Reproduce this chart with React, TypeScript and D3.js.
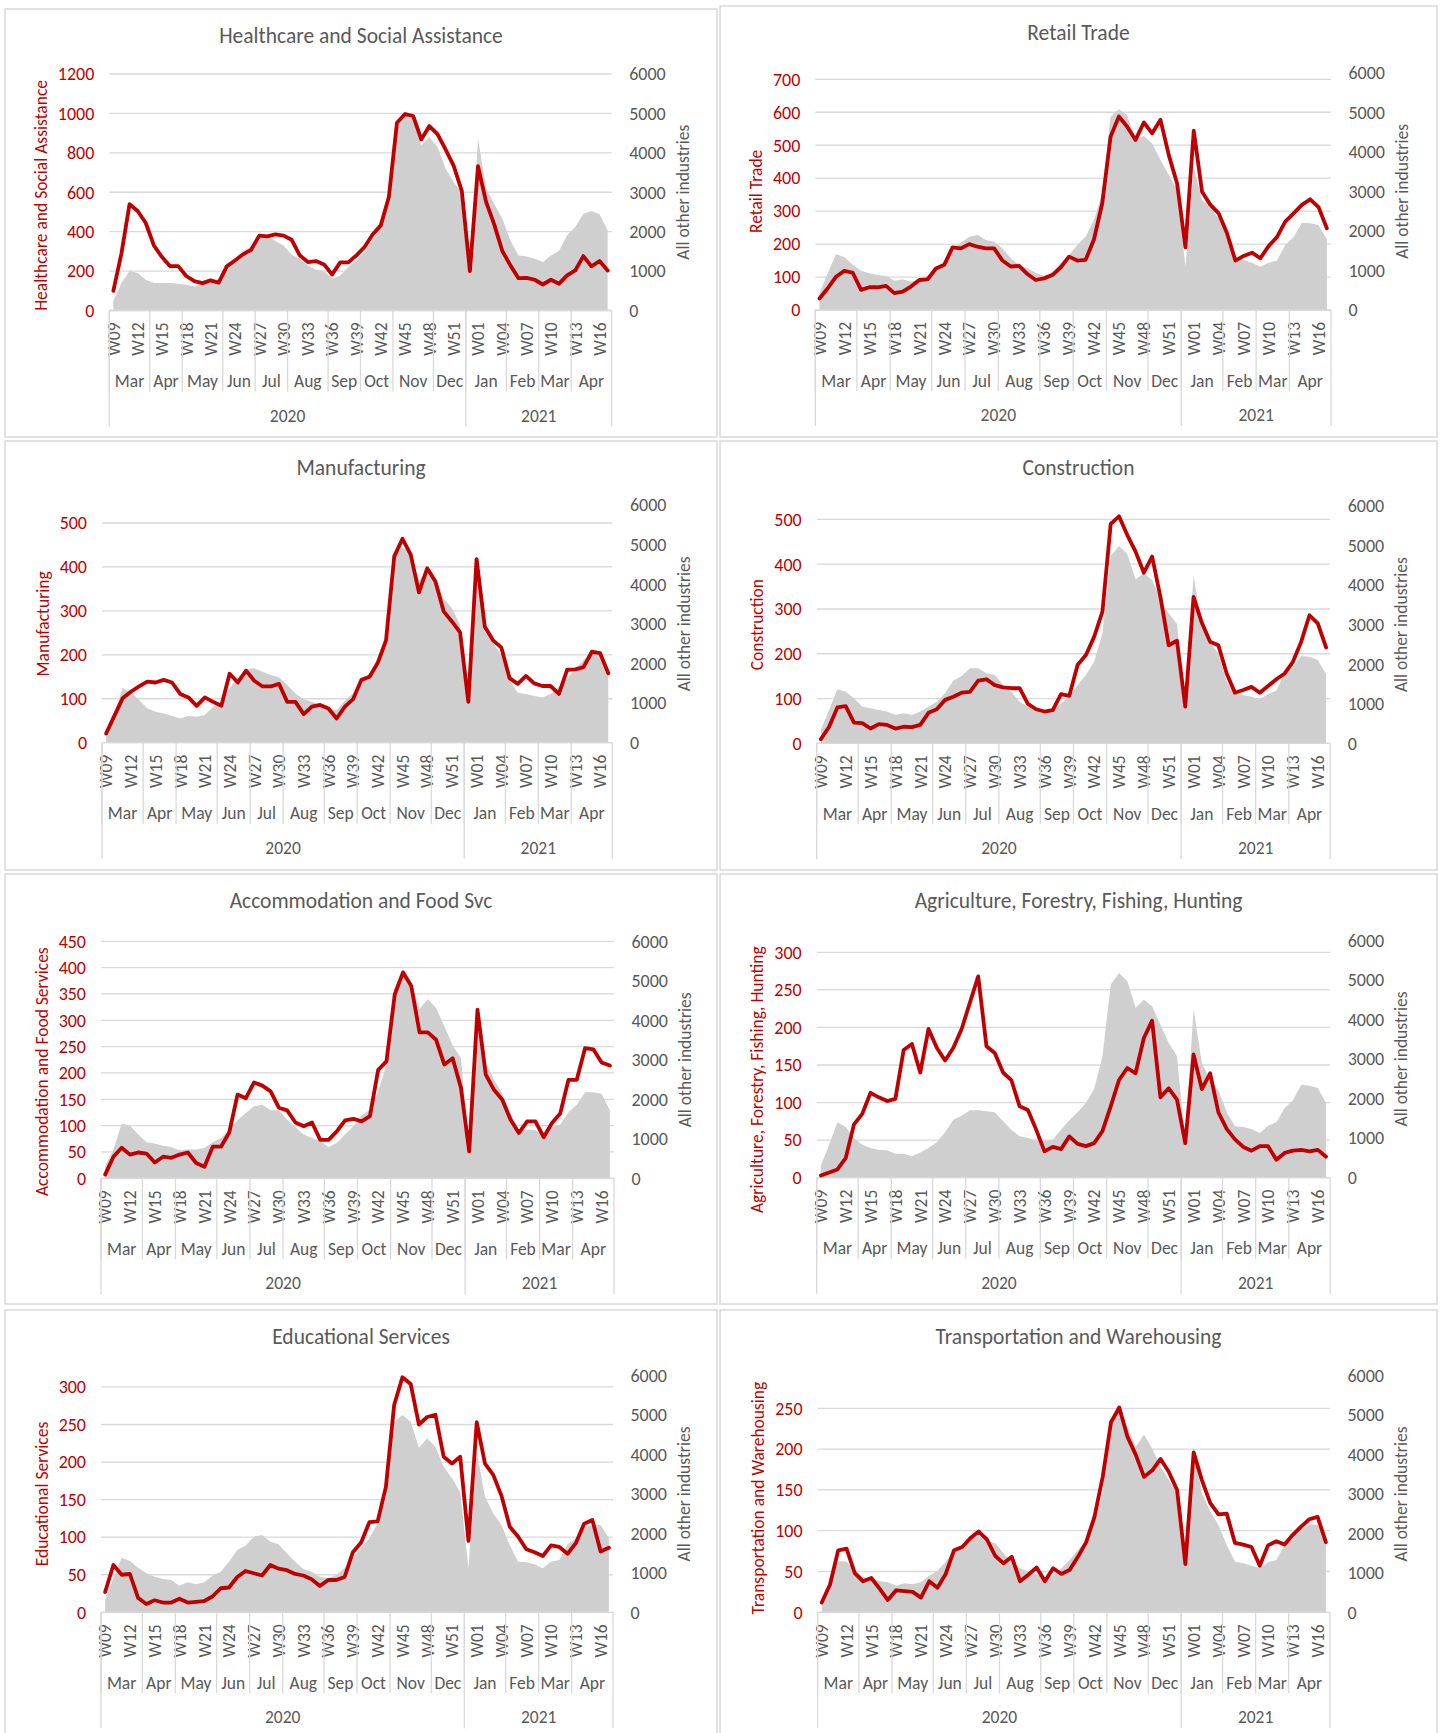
import { useEffect, useRef } from 'react';
import * as d3 from 'd3';

const W = 1442, H = 1733;
const RED = '#C00000';
const AREA = '#D0CFCF';
const GRID = '#D9D9D9';
const TEXT = '#595959';
const FONT = "Carlito, Calibri, Lato, sans-serif";

// 2020 W09 .. W53, then 2021 W01 .. W17
const WEEKS = [
  'W09', 'W10', 'W11', 'W12', 'W13', 'W14', 'W15', 'W16', 'W17', 'W18', 'W19', 'W20', 'W21', 'W22', 'W23',
  'W24', 'W25', 'W26', 'W27', 'W28', 'W29', 'W30', 'W31', 'W32', 'W33', 'W34', 'W35', 'W36', 'W37', 'W38',
  'W39', 'W40', 'W41', 'W42', 'W43', 'W44', 'W45', 'W46', 'W47', 'W48', 'W49', 'W50', 'W51', 'W52', 'W53',
  'W01', 'W02', 'W03', 'W04', 'W05', 'W06', 'W07', 'W08', 'W09', 'W10', 'W11', 'W12', 'W13', 'W14', 'W15',
  'W16', 'W17',
];
const MONTHS = ['Mar', 'Apr', 'May', 'Jun', 'Jul', 'Aug', 'Sep', 'Oct', 'Nov', 'Dec', 'Jan', 'Feb', 'Mar', 'Apr'];
const MONTH_WEEKS = [5, 4, 5, 4, 4, 5, 4, 4, 5, 4, 5, 4, 4, 5];
const YEARS = ['2020', '2021'];
const YEAR_WEEKS = [44, 18];
const RIGHT_TICKS = [0, 1000, 2000, 3000, 4000, 5000, 6000];

const HSA_RED = [100, 290, 540, 505, 444, 330, 271, 225, 225, 175, 149, 139, 153, 141, 224, 254, 285, 308, 380, 376, 386, 380, 359, 280, 246, 251, 234, 183, 244, 244, 280, 322, 386, 432, 576, 953, 997, 987, 868, 936, 895, 817, 734, 607, 200, 732, 551, 437, 302, 229, 164, 166, 156, 132, 156, 136, 178, 203, 276, 224, 251, 203];
const HSA_GRAY = [250, 695, 1000, 949, 780, 695, 695, 695, 678, 652, 610, 695, 745, 720, 1016, 1254, 1508, 1626, 1906, 1906, 1762, 1652, 1423, 1313, 1143, 1033, 1000, 805, 890, 1101, 1287, 1508, 1796, 2118, 2710, 4659, 4997, 4955, 4193, 4404, 4150, 3600, 3261, 2981, 1000, 4362, 3092, 2710, 2329, 1779, 1398, 1372, 1313, 1228, 1398, 1508, 1906, 2118, 2456, 2524, 2439, 2033];

const RET_RED = [35, 66, 101, 119, 113, 61, 69, 69, 73, 51, 56, 71, 91, 93, 126, 137, 190, 187, 200, 192, 187, 187, 150, 132, 134, 109, 91, 96, 106, 129, 162, 150, 152, 214, 324, 526, 587, 556, 516, 569, 536, 577, 470, 384, 190, 544, 359, 319, 293, 233, 150, 164, 174, 157, 194, 221, 268, 293, 319, 336, 312, 248];
const RET_GRAY = [420, 927, 1416, 1331, 1138, 994, 927, 885, 860, 742, 775, 716, 758, 860, 1028, 1163, 1534, 1702, 1854, 1896, 1770, 1728, 1559, 1306, 1138, 1053, 944, 860, 969, 1180, 1390, 1643, 1854, 2275, 2949, 4888, 5073, 4930, 4298, 4399, 4213, 3792, 3413, 3051, 1096, 3600, 2781, 2570, 2317, 1837, 1348, 1264, 1197, 1096, 1197, 1247, 1643, 1837, 2208, 2191, 2149, 1787];

const MFG_RED = [21, 61, 101, 116, 128, 139, 137, 143, 137, 111, 103, 84, 103, 93, 84, 157, 137, 164, 141, 128, 128, 134, 93, 93, 65, 82, 86, 78, 55, 82, 99, 143, 150, 182, 233, 424, 464, 428, 342, 397, 367, 299, 276, 251, 93, 418, 264, 233, 217, 147, 134, 152, 135, 129, 129, 111, 166, 167, 172, 207, 204, 158];
const MFG_GRAY = [300, 740, 1372, 1287, 1077, 867, 783, 740, 673, 614, 673, 656, 698, 909, 1035, 1372, 1649, 1851, 1877, 1792, 1708, 1649, 1456, 1245, 1094, 1035, 951, 842, 825, 1060, 1245, 1540, 1750, 2045, 2508, 4696, 4931, 4780, 4107, 4317, 4149, 3644, 3391, 2970, 993, 4200, 2802, 2525, 2213, 1582, 1262, 1229, 1178, 1144, 1229, 1414, 1624, 1851, 2087, 2255, 2213, 1750];

const CON_RED = [9, 37, 80, 83, 46, 45, 33, 43, 41, 33, 37, 36, 41, 68, 76, 97, 104, 113, 115, 140, 143, 130, 125, 123, 123, 88, 76, 71, 74, 110, 106, 175, 197, 238, 294, 490, 507, 465, 428, 381, 417, 327, 219, 229, 82, 327, 269, 227, 219, 156, 113, 119, 126, 113, 128, 143, 156, 182, 227, 286, 268, 214];
const CON_GRAY = [337, 843, 1365, 1306, 1138, 927, 885, 843, 801, 716, 758, 716, 801, 927, 1053, 1264, 1584, 1702, 1896, 1896, 1770, 1728, 1475, 1306, 1053, 927, 885, 758, 843, 1011, 1180, 1475, 1728, 2065, 2781, 4736, 4989, 4786, 4146, 4298, 4129, 3624, 3287, 3017, 927, 4256, 2950, 2528, 2275, 1559, 1264, 1222, 1180, 1112, 1247, 1331, 1787, 1938, 2208, 2191, 2107, 1753];

const ACC_RED = [7, 41, 58, 45, 49, 47, 30, 41, 39, 45, 49, 29, 22, 60, 60, 87, 159, 152, 182, 176, 165, 134, 129, 106, 99, 106, 73, 73, 89, 110, 113, 108, 118, 206, 222, 349, 391, 365, 277, 277, 263, 216, 228, 172, 51, 320, 197, 168, 149, 111, 86, 108, 108, 78, 105, 123, 187, 187, 247, 245, 220, 214];
const ACC_GRAY = [300, 726, 1384, 1333, 1106, 911, 878, 827, 793, 709, 726, 726, 768, 911, 1021, 1232, 1468, 1654, 1823, 1865, 1722, 1722, 1485, 1300, 1106, 1021, 937, 793, 894, 1106, 1316, 1587, 1739, 2203, 2878, 4819, 5283, 4945, 4287, 4540, 4312, 3848, 3359, 3046, 726, 4312, 2920, 2498, 2143, 1654, 1249, 1232, 1215, 1080, 1300, 1359, 1671, 1865, 2177, 2177, 2143, 1722];

const AGR_RED = [3, 7, 11, 26, 71, 85, 113, 107, 102, 105, 170, 178, 140, 198, 173, 156, 173, 198, 233, 268, 175, 166, 140, 130, 95, 90, 64, 35, 41, 38, 55, 45, 42, 46, 62, 95, 130, 146, 139, 186, 209, 107, 119, 104, 46, 164, 118, 139, 87, 65, 51, 41, 36, 42, 42, 24, 33, 36, 37, 35, 37, 28];
const AGR_GRAY = [303, 834, 1399, 1281, 1003, 834, 750, 708, 691, 607, 607, 539, 640, 750, 893, 1146, 1466, 1567, 1702, 1702, 1677, 1652, 1424, 1213, 1045, 1003, 944, 919, 961, 1213, 1449, 1652, 1888, 2242, 3067, 4879, 5174, 4964, 4289, 4500, 4331, 3868, 3405, 3067, 876, 4264, 2899, 2478, 2208, 1652, 1298, 1281, 1230, 1129, 1315, 1399, 1761, 1955, 2351, 2326, 2267, 1888];

const EDU_RED = [27, 63, 50, 51, 19, 11, 16, 13, 13, 18, 13, 14, 15, 21, 32, 33, 47, 55, 52, 49, 63, 58, 56, 51, 49, 44, 35, 43, 43, 47, 80, 93, 120, 121, 167, 276, 313, 304, 250, 260, 263, 207, 198, 207, 95, 253, 198, 183, 155, 114, 101, 84, 80, 75, 89, 87, 78, 92, 118, 123, 81, 86];
const EDU_GRAY = [313, 879, 1386, 1301, 1132, 989, 904, 845, 820, 676, 761, 710, 761, 930, 1031, 1285, 1580, 1690, 1918, 1961, 1792, 1724, 1496, 1285, 1099, 1031, 904, 862, 947, 1116, 1369, 1640, 1876, 2256, 2932, 4834, 5003, 4834, 4175, 4411, 4200, 3693, 3397, 3042, 1116, 4073, 2932, 2510, 2214, 1707, 1285, 1268, 1217, 1116, 1285, 1327, 1724, 1876, 2172, 2214, 2214, 1876];

const TRN_RED = [12, 34, 76, 78, 48, 38, 42, 29, 15, 27, 26, 25, 18, 38, 30, 47, 76, 80, 91, 99, 89, 69, 60, 68, 38, 46, 55, 38, 54, 47, 52, 68, 86, 117, 166, 233, 251, 215, 193, 166, 174, 188, 172, 150, 59, 196, 162, 134, 120, 121, 85, 83, 80, 57, 82, 87, 83, 95, 105, 114, 117, 86];
const TRN_GRAY = [186, 820, 1301, 1285, 1073, 904, 845, 794, 761, 676, 735, 710, 761, 930, 1048, 1285, 1555, 1690, 1876, 1944, 1809, 1749, 1496, 1285, 1116, 1031, 963, 862, 947, 1116, 1327, 1580, 1834, 2299, 3059, 4876, 5087, 4700, 4200, 4500, 4150, 3693, 3355, 3042, 1158, 4200, 3017, 2569, 2214, 1707, 1285, 1242, 1183, 1116, 1268, 1327, 1707, 1876, 2130, 2231, 2214, 1876];

interface Panel {
  title: string;
  axisTitle: string;
  red: number[];
  gray: number[];
  leftMax: number;
  step: number;
}

const PANELS: Panel[] = [
  { title: 'Healthcare and Social Assistance', axisTitle: 'Healthcare and Social Assistance', red: HSA_RED, gray: HSA_GRAY, leftMax: 1200, step: 200 },
  { title: 'Retail Trade', axisTitle: 'Retail Trade', red: RET_RED, gray: RET_GRAY, leftMax: 720, step: 100 },
  { title: 'Manufacturing', axisTitle: 'Manufacturing', red: MFG_RED, gray: MFG_GRAY, leftMax: 541, step: 100 },
  { title: 'Construction', axisTitle: 'Construction', red: CON_RED, gray: CON_GRAY, leftMax: 530, step: 100 },
  { title: 'Accommodation and Food Svc', axisTitle: 'Accommodation and Food Services', red: ACC_RED, gray: ACC_GRAY, leftMax: 450, step: 50 },
  { title: 'Agriculture, Forestry, Fishing, Hunting', axisTitle: 'Agriculture, Forestry, Fishing, Hunting', red: AGR_RED, gray: AGR_GRAY, leftMax: 316, step: 50 },
  { title: 'Educational Services', axisTitle: 'Educational Services', red: EDU_RED, gray: EDU_GRAY, leftMax: 315, step: 50 },
  { title: 'Transportation and Warehousing', axisTitle: 'Transportation and Warehousing', red: TRN_RED, gray: TRN_GRAY, leftMax: 290, step: 50 },
];

// frame box [x, y, w, h] and plot area edges of each panel
const LAYOUT = [
  { box: [5, 9, 712, 428], l: 109.3, r: 611.7, t: 74, b: 310.5 },
  { box: [720, 6, 717, 431], l: 815.3, r: 1331, t: 72.7, b: 310 },
  { box: [5, 441, 712, 429], l: 102, r: 612.4, t: 505, b: 742.7 },
  { box: [720, 441, 717, 429], l: 816.7, r: 1330.2, t: 506, b: 743.3 },
  { box: [5, 874, 712, 430], l: 101, r: 614, t: 941.3, b: 1178.3 },
  { box: [720, 874, 717, 430], l: 816.7, r: 1330.2, t: 940.3, b: 1177.7 },
  { box: [5, 1310, 712, 440], l: 101, r: 613, t: 1375.7, b: 1612.3 },
  { box: [720, 1310, 717, 440], l: 817.6, r: 1330, t: 1375.7, b: 1612.3 },
];

type Sel = d3.Selection<SVGGElement, unknown, null, undefined>;

function drawPanel(g: Sel, p: Panel, lay: typeof LAYOUT[number]) {
  const [bx, by, bw, bh] = lay.box;
  const { l, r, t, b } = lay;
  g.append('rect').attr('x', bx).attr('y', by).attr('width', bw).attr('height', bh)
    .attr('fill', '#fff').attr('stroke', GRID).attr('stroke-width', 1.5);

  const n = WEEKS.length;
  const x = d3.scaleBand<number>().domain(d3.range(n)).range([l, r]);
  const bwid = x.bandwidth();
  const cx = (i: number) => (x(i) ?? 0) + bwid / 2;
  const yL = d3.scaleLinear().domain([0, p.leftMax]).range([b, t]);
  const yR = d3.scaleLinear().domain([0, 6000]).range([b, t]);
  const ticks = d3.range(0, p.leftMax + 1e-6, p.step);

  // gridlines (left axis)
  g.append('g').selectAll('line').data(ticks).join('line')
    .attr('x1', l).attr('x2', r).attr('y1', d => yL(d)).attr('y2', d => yL(d))
    .attr('stroke', GRID).attr('stroke-width', 1.3);

  // All other industries: grey area on the secondary axis
  const area = d3.area<number>().x((_, i) => cx(i)).y0(b).y1(v => yR(v));
  g.append('path').attr('d', area(p.gray) ?? '').attr('fill', AREA);

  // category axis line
  g.append('line').attr('x1', l).attr('x2', r).attr('y1', b).attr('y2', b)
    .attr('stroke', GRID).attr('stroke-width', 1.3);

  // industry line
  const line = d3.line<number>().x((_, i) => cx(i)).y(v => yL(v));
  g.append('path').attr('d', line(p.red) ?? '').attr('fill', 'none').attr('stroke', RED)
    .attr('stroke-width', 3.8).attr('stroke-linejoin', 'round').attr('stroke-linecap', 'round');

  // left ticks
  const leftLabels = g.append('g').selectAll('text').data(ticks).join('text')
    .attr('x', l - 15).attr('y', d => yL(d)).attr('dy', '0.35em').attr('text-anchor', 'end')
    .attr('fill', RED).attr('font-size', 18).text(d => String(d));
  let maxW = 0;
  leftLabels.each(function () {
    maxW = Math.max(maxW, (this as SVGTextElement).getComputedTextLength());
  });

  // right ticks
  g.append('g').selectAll('text').data(RIGHT_TICKS).join('text')
    .attr('x', r + 17.5).attr('y', d => yR(d)).attr('dy', '0.35em').attr('text-anchor', 'start')
    .attr('fill', TEXT).attr('font-size', 18).text(d => String(d));

  // week labels, every third
  g.append('g').selectAll('text').data(WEEKS.map((w, i) => ({ w, i })).filter(d => d.i % 3 === 0)).join('text')
    .attr('transform', d => `translate(${cx(d.i)},${b + 12}) rotate(-90)`)
    .attr('text-anchor', 'end').attr('dy', '0.36em').attr('fill', TEXT).attr('font-size', 17.5)
    .text(d => d.w);

  // month groups
  let s = 0;
  MONTHS.forEach((m, k) => {
    const x0 = l + s * bwid;
    const x1 = l + (s + MONTH_WEEKS[k]) * bwid;
    g.append('line').attr('x1', x0).attr('x2', x0).attr('y1', b).attr('y2', b + 81)
      .attr('stroke', GRID).attr('stroke-width', 1.3);
    g.append('text').attr('x', (x0 + x1) / 2).attr('y', b + 76.5).attr('text-anchor', 'middle')
      .attr('fill', TEXT).attr('font-size', 17.5).text(m);
    s += MONTH_WEEKS[k];
  });

  // year groups
  s = 0;
  YEARS.forEach((yr, k) => {
    const x0 = l + s * bwid;
    const x1 = l + (s + YEAR_WEEKS[k]) * bwid;
    g.append('line').attr('x1', x0).attr('x2', x0).attr('y1', b).attr('y2', b + 116)
      .attr('stroke', GRID).attr('stroke-width', 1.3);
    g.append('text').attr('x', (x0 + x1) / 2).attr('y', b + 111).attr('text-anchor', 'middle')
      .attr('fill', TEXT).attr('font-size', 17.5).text(yr);
    s += YEAR_WEEKS[k];
  });
  g.append('line').attr('x1', r).attr('x2', r).attr('y1', b).attr('y2', b + 116)
    .attr('stroke', GRID).attr('stroke-width', 1.3);

  // chart title
  g.append('text').attr('x', bx + bw / 2).attr('y', by + 33.5).attr('text-anchor', 'middle')
    .attr('fill', TEXT).attr('font-size', 21.5).text(p.title);

  // left axis title
  const lt = g.append('text').attr('text-anchor', 'middle').attr('dy', '0.35em')
    .attr('fill', RED).attr('font-size', 17.5).text(p.axisTitle);
  const len = (lt.node() as SVGTextElement).getComputedTextLength();
  const ly = Math.max((t + b) / 2, t + 6 + len / 2);
  lt.attr('transform', `translate(${l - 15 - maxW - 17},${ly}) rotate(-90)`);

  // right axis title
  g.append('text').attr('transform', `translate(${r + 71},${(t + b) / 2}) rotate(-90)`)
    .attr('text-anchor', 'middle').attr('dy', '0.35em').attr('fill', TEXT).attr('font-size', 17.5)
    .text('All other industries');
}

export default function App() {
  const ref = useRef<SVGSVGElement>(null);

  useEffect(() => {
    const svg = d3.select(ref.current);
    svg.selectAll('*').remove();
    svg.append('rect').attr('width', W).attr('height', H).attr('fill', '#fff');
    PANELS.forEach((p, k) => {
      const g = svg.append('g') as unknown as Sel;
      drawPanel(g, p, LAYOUT[k]);
    });
  }, []);

  return (
    <svg
      ref={ref}
      width={W}
      height={H}
      viewBox={`0 0 ${W} ${H}`}
      fontFamily={FONT}
      style={{ position: 'absolute', left: 0, top: 0, display: 'block' }}
    />
  );
}
